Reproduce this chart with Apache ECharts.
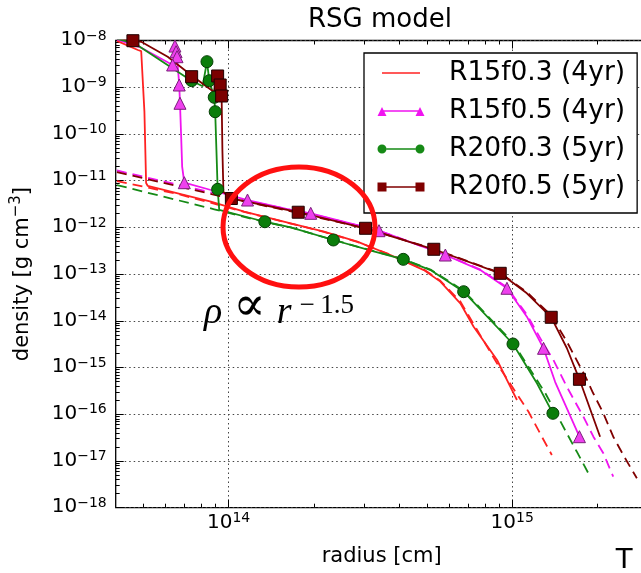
<!DOCTYPE html>
<html><head><meta charset="utf-8">
<script src="https://cdn.jsdelivr.net/npm/echarts@6/dist/echarts.min.js"></script>
<style>html,body{margin:0;padding:0;background:#fff}#c{width:641px;height:573px}</style>
</head><body><div id="c"></div>
<script>
// ---------- data (radius in cm, density in g cm^-3) ----------
const seriesNames = ['R15f0.3 (4yr)', 'R15f0.5 (4yr)', 'R20f0.3 (5yr)', 'R20f0.5 (5yr)'];
const xRange = [4e13, 3e15];
const yRange = [1e-18, 1e-8];
const xMajorTicks = [1e14, 1e15];
const yMajorTicks = [1e-18, 1e-17, 1e-16, 1e-15, 1e-14, 1e-13, 1e-12, 1e-11, 1e-10, 1e-9, 1e-8];
const minorMultipliers = [2, 3, 4, 5, 6, 7, 8, 9];

// R15f0.3 (red)
const r15f03Line = [[4.04e13,9.8e-9],[4.79e13,6.26e-9],[4.92e13,5.9e-9],[4.98e13,5.5e-9],[5.05e13,3.0e-10],[5.12e13,8.9e-12],[5.19e13,7.7e-12],[6.62e13,5.36e-12],[8.66e13,3.55e-12],[1.135e14,2.17e-12],[1.656e14,1.22e-12],[2.169e14,8.08e-13],[2.843e14,4.94e-13],[3.72e14,2.56e-13],[4.88e14,1.22e-13],[5.58e14,6.9e-14],[6.56e14,2.37e-14],[7.31e14,7.48e-15],[8.84e14,1.45e-15],[9.84e14,3.89e-16],[1.039e15,2.02e-16]];
const r15f03Fit = [[4.04e13,9.8e-12],[6.62e13,5.2e-12],[1.135e14,2.15e-12],[1.656e14,1.21e-12],[2.169e14,8.0e-13],[2.843e14,4.9e-13],[3.72e14,2.6e-13],[4.88e14,1.25e-13],[5.58e14,7.2e-14],[6.56e14,2.6e-14],[7.31e14,8.5e-15],[8.9e14,1.14e-15],[1.141e15,1.13e-16],[1.272e15,3.3e-17],[1.379e15,1.34e-17]];

// R15f0.5 (magenta, triangles)
const r15f05Line = [[4.04e13,1.05e-8],[4.92e13,7.0e-9],[6.35e13,2.99e-9],[6.47e13,7.6e-9],[6.53e13,5.76e-9],[6.58e13,4.5e-9],[6.70e13,1.115e-9],[6.74e13,4.53e-10],[6.80e13,1.0e-10],[6.86e13,2.0e-11],[6.98e13,9.04e-12],[8.66e13,6.31e-12],[1.166e14,3.85e-12],[1.656e14,2.36e-12],[1.948e14,2.0e-12],[3.39e14,8.49e-13],[5.81e14,2.56e-13],[7.72e14,1.22e-13],[9.58e14,4.97e-14],[1.126e15,1.225e-14],[1.289e15,2.58e-15],[1.417e15,4.9e-16],[1.725e15,3.31e-17]];
const r15f05Marks = [[6.47e13,7.6e-9],[6.53e13,5.76e-9],[6.58e13,4.5e-9],[6.35e13,2.99e-9],[6.70e13,1.115e-9],[6.74e13,4.53e-10],[6.98e13,9.04e-12],[1.166e14,3.85e-12],[1.948e14,2.0e-12],[3.39e14,8.49e-13],[5.81e14,2.56e-13],[9.58e14,4.97e-14],[1.289e15,2.58e-15],[1.725e15,3.31e-17]];
const r15f05Fit = [[4.04e13,1.65e-11],[8.66e13,5.6e-12],[1.166e14,3.7e-12],[1.948e14,1.95e-12],[3.39e14,8.5e-13],[5.81e14,2.6e-13],[7.72e14,1.25e-13],[9.58e14,5.2e-14],[1.126e15,1.35e-14],[1.289e15,3.2e-15],[1.397e15,1.45e-15],[1.557e15,3.89e-16],[1.781e15,8.87e-17],[1.932e15,3.31e-17],[2.095e15,1.46e-17],[2.27e15,4.61e-18]];

// R20f0.3 (green, circles)
const r20f03Line = [[4.04e13,1.08e-8],[4.66e13,8.7e-9],[7.17e13,1.55e-9],[7.41e13,1.38e-9],[8.1e13,1.05e-9],[8.39e13,3.52e-9],[8.55e13,1.38e-9],[8.90e13,6.08e-10],[8.97e13,2.99e-10],[9.06e13,4.53e-11],[9.15e13,6.53e-12],[9.27e13,2.36e-12],[9.40e13,2.17e-12],[1.342e14,1.32e-12],[1.656e14,1.0e-12],[2.341e14,5.37e-13],[3.25e14,3.05e-13],[4.13e14,2.07e-13],[5.15e14,1.22e-13],[6.74e14,4.2e-14],[1.006e15,3.19e-15],[1.222e15,4.6e-16],[1.391e15,1.048e-16]];
const r20f03Marks = [[7.41e13,1.38e-9],[8.39e13,3.52e-9],[8.55e13,1.38e-9],[8.90e13,6.08e-10],[8.97e13,2.99e-10],[9.15e13,6.53e-12],[1.342e14,1.32e-12],[2.341e14,5.37e-13],[4.13e14,2.07e-13],[6.74e14,4.2e-14],[1.006e15,3.19e-15],[1.391e15,1.048e-16]];
const r20f03Fit = [[4.04e13,8.07e-12],[8.90e13,2.44e-12],[1.342e14,1.3e-12],[1.656e14,1.0e-12],[2.341e14,5.4e-13],[3.25e14,3.1e-13],[4.13e14,2.1e-13],[5.15e14,1.25e-13],[6.74e14,4.4e-14],[1.006e15,3.4e-15],[1.307e15,2.85e-16],[1.557e15,3.91e-17],[1.689e15,1.58e-17],[1.855e15,5.45e-18]];

// R20f0.5 (dark red, squares)
const r20f05Line = [[4.04e13,1.15e-8],[4.60e13,9.9e-9],[4.92e13,9.4e-9],[6.10e13,4.5e-9],[7.37e13,1.83e-9],[7.41e13,1.68e-9],[8.88e13,7.9e-10],[9.15e13,1.74e-9],[9.34e13,1.115e-9],[9.45e13,6.49e-10],[9.51e13,4.53e-11],[9.59e13,5.7e-12],[1.023e14,4.15e-12],[1.760e14,2.11e-12],[3.04e14,9.56e-13],[5.29e14,3.40e-13],[9.07e14,1.04e-13],[1.126e15,3.88e-14],[1.372e15,1.19e-14],[1.557e15,2.62e-15],[1.725e15,5.6e-16],[2.04e15,3.31e-17]];
const r20f05Marks = [[4.60e13,9.9e-9],[7.41e13,1.68e-9],[9.15e13,1.74e-9],[9.34e13,1.115e-9],[9.45e13,6.49e-10],[1.023e14,4.15e-12],[1.760e14,2.11e-12],[3.04e14,9.56e-13],[5.29e14,3.40e-13],[9.07e14,1.04e-13],[1.372e15,1.19e-14],[1.725e15,5.6e-16]];
const r20f05Fit = [[4.04e13,1.53e-11],[1.023e14,4.1e-12],[1.760e14,2.05e-12],[3.04e14,9.5e-13],[5.29e14,3.45e-13],[9.07e14,1.06e-13],[1.126e15,4.1e-14],[1.372e15,1.3e-14],[1.557e15,3.6e-15],[1.821e15,5.97e-16],[1.927e15,2.85e-16],[2.095e15,1.048e-16],[2.27e15,3.31e-17],[2.50e15,1.14e-17],[2.75e15,4.26e-18]];

// ---------- chart ----------
const FONT = 'DejaVu Sans';
const C = { red: '#ff2222', mag: '#f014f0', green: '#168a16', dred: '#800000' };

function minors(lo, hi) {
  const out = [];
  for (let d = Math.floor(Math.log10(lo)); d <= Math.ceil(Math.log10(hi)); d++) {
    minorMultipliers.forEach(m => { const v = m * Math.pow(10, d); if (v > lo && v < hi) out.push(v); });
  }
  return out;
}
const xMinor = minors(xRange[0], xRange[1]);
const yMinor = minors(yRange[0], yRange[1]);

const tickRich = {
  b: { fontFamily: FONT, fontSize: 20, lineHeight: 23, padding: [0, 0, 2, 0], verticalAlign: 'bottom', color: '#000' },
  s: { fontFamily: FONT, fontSize: 14, lineHeight: 15, padding: [0, 0, 15, 0], verticalAlign: 'top', color: '#000' }
};
const powLabel = v => '{b|10}{s|' + String(Math.round(Math.log10(v))).replace('-', '\u2212') + '}';

const baseX = { type: 'log', logBase: 10, min: xRange[0], max: xRange[1], gridIndex: 0,
  axisLine: { show: false, onZero: false }, splitLine: { show: false }, axisLabel: { show: false },
  axisTick: { show: false }, axisPointer: { show: false } };
const baseY = { type: 'log', logBase: 10, min: yRange[0], max: yRange[1], gridIndex: 0,
  axisLine: { show: false, onZero: false }, splitLine: { show: false }, axisLabel: { show: false },
  axisTick: { show: false }, axisPointer: { show: false } };
const tick = (vals, len) => ({ show: true, inside: true, length: len, customValues: vals, lineStyle: { color: '#000', width: 1 } });
const gridLine = { show: true, lineStyle: { color: '#444', width: 1, type: [1.5, 3] } };

const legendIcons = [
  'path://M0,0 M48,14 M5,6.2 L43,6.2 L43,7.8 L5,7.8 Z',
  'path://M0,0 M48,14 M0.5,12 L5,3 L9.5,12 Z M38.5,12 L43,3 L47.5,12 Z M5,6.3 L43,6.3 L43,7.7 L5,7.7 Z',
  'path://M0,0 M48,14 M0.5,7 A4.5,4.5 0 1 1 9.5,7 A4.5,4.5 0 1 1 0.5,7 Z M38.5,7 A4.5,4.5 0 1 1 47.5,7 A4.5,4.5 0 1 1 38.5,7 Z M9.5,6.3 L38.5,6.3 L38.5,7.7 L9.5,7.7 Z',
  'path://M0,0 M48,14 M0.5,2.5 L9.5,2.5 L9.5,11.5 L0.5,11.5 Z M38.5,2.5 L47.5,2.5 L47.5,11.5 L38.5,11.5 Z M9.5,6.3 L38.5,6.3 L38.5,7.7 L9.5,7.7 Z'
];

function lineS(name, data, color, dashed) {
  return { type: 'line', name, data, xAxisIndex: 0, yAxisIndex: 0, symbol: 'none', showSymbol: false,
    lineStyle: { color, width: 1.8, type: dashed ? [10, 6] : 'solid' }, itemStyle: { color },
    clip: true, animation: false, silent: true, z: 2 };
}
function markS(name, data, symbol, size, color, border) {
  return { type: 'scatter', name, data, xAxisIndex: 0, yAxisIndex: 0, symbol, symbolSize: size,
    itemStyle: { color, borderColor: border, borderWidth: 1, opacity: 1 }, clip: true, animation: false, silent: true, z: 3 };
}

const option = {
  backgroundColor: '#fff',
  animation: false,
  title: { text: 'RSG model', left: 303, top: 2, textStyle: { fontFamily: FONT, fontSize: 26, fontWeight: 'normal', color: '#000' } },
  grid: { left: 115.7, top: 40.5, right: -6.6, bottom: 65.3, show: true, borderColor: '#000', borderWidth: 1.3,
    backgroundColor: 'transparent', containLabel: false, outerBoundsMode: 'none' },
  legend: {
    orient: 'vertical', left: 364, top: 53, padding: [5, 12, 11, 13], itemGap: 8, itemWidth: 48, itemHeight: 14,
    backgroundColor: '#fff', borderColor: '#000', borderWidth: 1.3, borderRadius: 0, selectedMode: false,
    textStyle: { fontFamily: FONT, fontSize: 26.5, lineHeight: 30, color: '#000', padding: [0, 0, 0, 19] },
    data: seriesNames.map((n, i) => ({ name: n, icon: legendIcons[i] }))
  },
  xAxis: [
    Object.assign({}, baseX, { position: 'bottom', axisTick: tick(xMajorTicks, 8), splitLine: gridLine,
      axisLabel: { show: true, customValues: xMajorTicks, formatter: powLabel, rich: tickRich, margin: 4 },
      name: 'radius [cm]', nameLocation: 'middle', nameGap: 38,
      nameTextStyle: { fontFamily: FONT, fontSize: 21, color: '#000' } }),
    Object.assign({}, baseX, { position: 'bottom', axisTick: tick(xMinor, 4) }),
    Object.assign({}, baseX, { position: 'top', axisTick: tick(xMajorTicks, 8) }),
    Object.assign({}, baseX, { position: 'top', axisTick: tick(xMinor, 4) })
  ],
  yAxis: [
    Object.assign({}, baseY, { position: 'left', axisTick: tick(yMajorTicks, 8), splitLine: gridLine,
      axisLabel: { show: true, customValues: yMajorTicks, formatter: powLabel, rich: tickRich, margin: 9 },
      name: '{a|density [g cm}{s|\u22123}{a|]}', nameLocation: 'middle', nameGap: 83, nameRotate: 90,
      nameTextStyle: { rich: {
        a: { fontFamily: FONT, fontSize: 21, lineHeight: 24, color: '#000', verticalAlign: 'bottom' },
        s: { fontFamily: FONT, fontSize: 15, lineHeight: 16, padding: [0, 0, 12, 0], color: '#000', verticalAlign: 'top' } } } }),
    Object.assign({}, baseY, { position: 'left', axisTick: tick(yMinor, 4) })
  ],
  series: [
    lineS(seriesNames[0], r15f03Line, C.red, false),
    lineS(seriesNames[0] + ' fit', r15f03Fit, C.red, true),
    lineS(seriesNames[1], r15f05Line, C.mag, false),
    markS(seriesNames[1], r15f05Marks, 'triangle', 12, '#ee40ee', '#7a1f7a'),
    lineS(seriesNames[1] + ' fit', r15f05Fit, C.mag, true),
    lineS(seriesNames[2], r20f03Line, C.green, false),
    markS(seriesNames[2], r20f03Marks, 'circle', 12, '#0b7d0b', '#064006'),
    lineS(seriesNames[2] + ' fit', r20f03Fit, C.green, true),
    lineS(seriesNames[3], r20f05Line, C.dred, false),
    markS(seriesNames[3], r20f05Marks, 'rect', 12, '#7b0000', '#200000'),
    lineS(seriesNames[3] + ' fit', r20f05Fit, C.dred, true)
  ],
  graphic: [
    { type: 'ellipse', z: 100, shape: { cx: 299, cy: 227, rx: 76, ry: 60 },
      style: { fill: 'none', stroke: '#ff1010', lineWidth: 5 } },
    { type: 'text', z: 100, x: 204, y: 292, style: {
        text: '{i|\u03c1}{n|\u221d}{i|r}{s|\u2212\u20091.5}', verticalAlign: 'top', align: 'left',
        rich: {
          i: { fontFamily: 'Liberation Serif', fontStyle: 'italic', fontSize: 38, lineHeight: 40, verticalAlign: 'bottom', fill: '#000' },
          n: { fontFamily: 'DejaVu Serif', fontSize: 48, lineHeight: 36, padding: [0, 11, 0, 11], verticalAlign: 'bottom', fill: '#000' },
          s: { fontFamily: 'Liberation Serif', fontSize: 27, lineHeight: 26, padding: [0, 0, 20, 8], verticalAlign: 'top', fill: '#000' }
        } } },
    { type: 'text', z: 100, x: 615, y: 545, style: { text: 'T', fontFamily: 'Liberation Sans', fontSize: 30, fill: '#000', verticalAlign: 'top' } }
  ]
};

const chart = echarts.init(document.getElementById('c'), null, { renderer: 'canvas' });
chart.setOption(option);
</script>
</body></html>
